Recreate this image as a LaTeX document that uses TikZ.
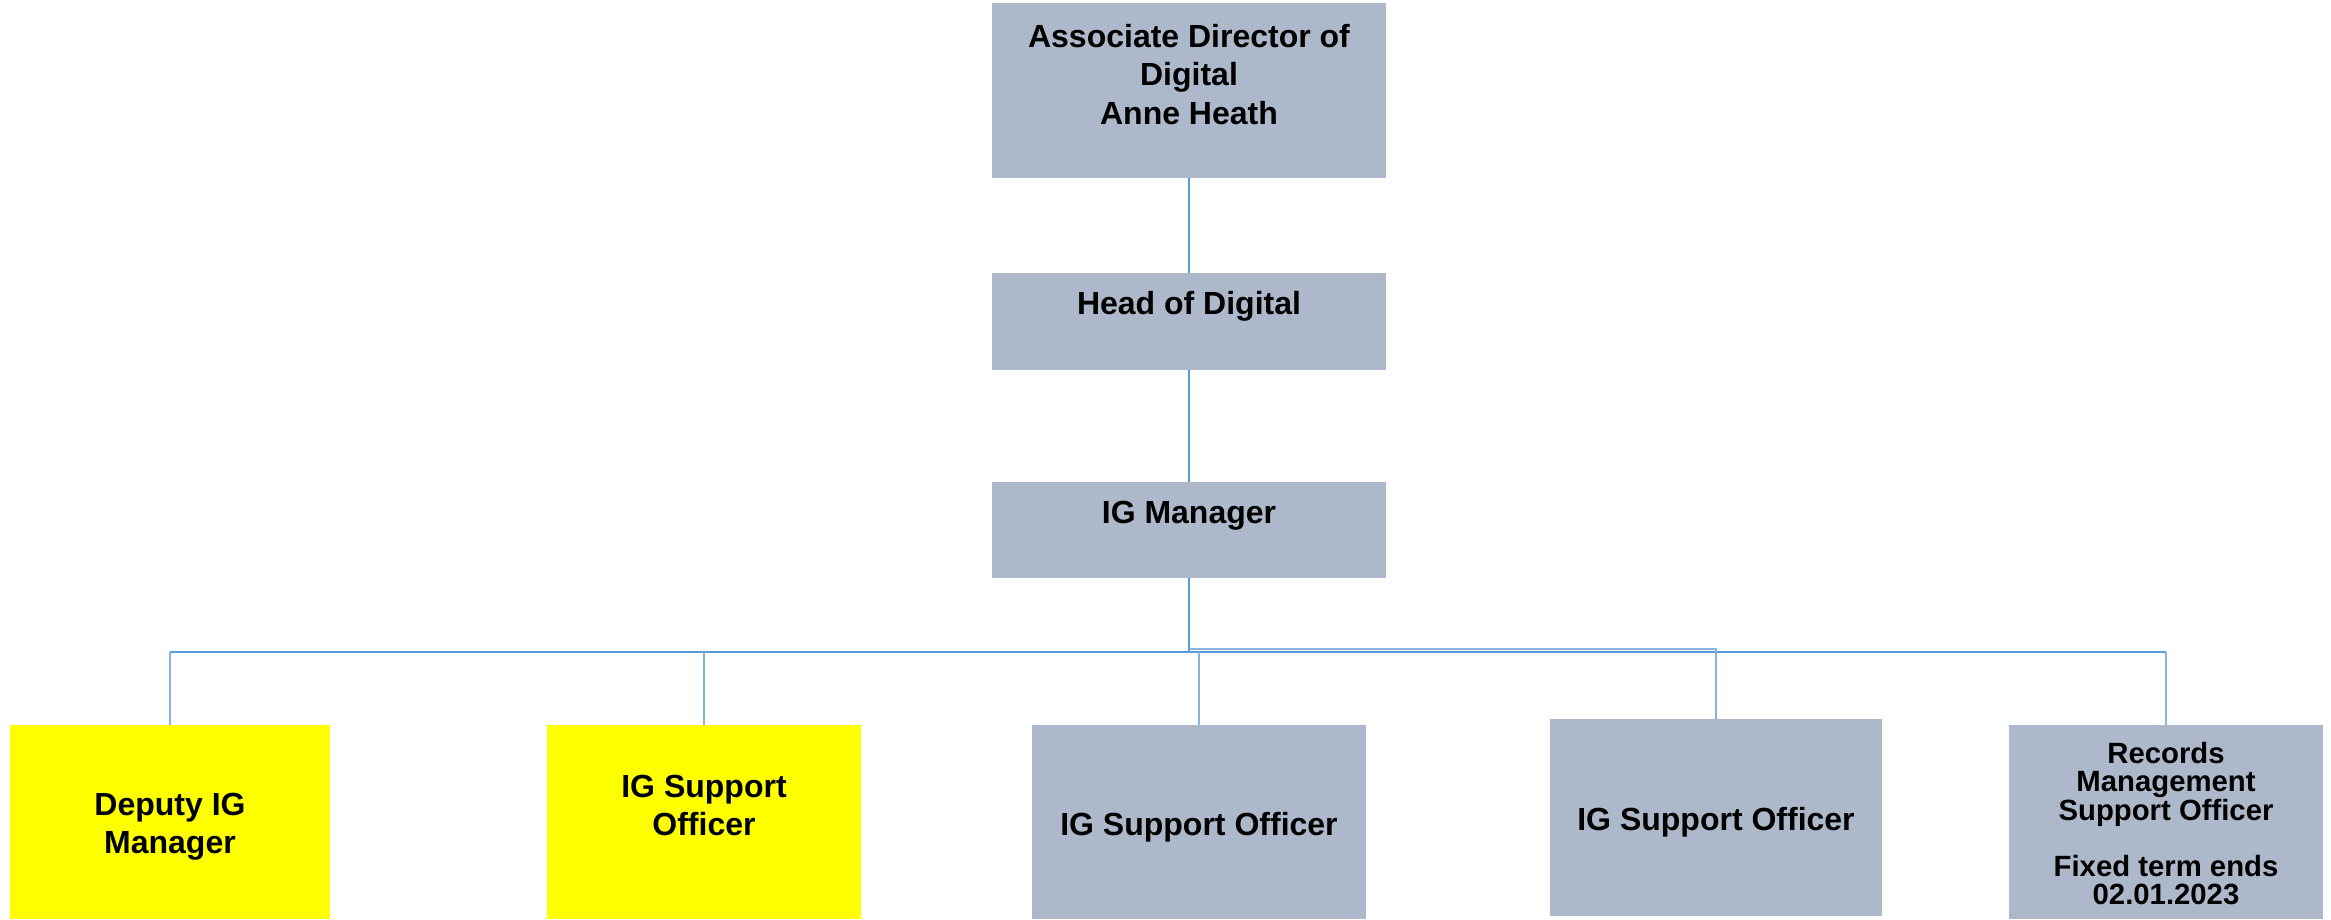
\documentclass[tikz,border=0pt]{standalone}
\usepackage{fontspec}
\setmainfont{Liberation Sans}
\definecolor{boxgray}{HTML}{ADB9CA}
\definecolor{boxyellow}{HTML}{FFFF00}
\definecolor{linkblue}{HTML}{5B9BD5}
\definecolor{droplight}{HTML}{86B3E2}
\begin{document}
\begin{tikzpicture}[x=1pt,y=-1pt,
  box/.style={rectangle, inner sep=0pt, draw=none},
  graybox/.style={box, fill=boxgray},
  yellowbox/.style={box, fill=boxyellow},
  lbl/.style={anchor=north, inner sep=0pt, align=center, font=\fontsize{32}{38.4}\selectfont\bfseries},
  smalllbl/.style={lbl, font=\fontsize{29.3}{28.3}\selectfont\bfseries},
  conn/.style={draw=linkblue, line width=1.8pt},
  drop/.style={draw=droplight, line width=1.4pt}]
\useasboundingbox (0,0) rectangle (2331,919);

% boxes
\node[graybox, minimum width=394pt, minimum height=175pt] (top) at (1189,90.5) {};
\node[graybox, minimum width=394pt, minimum height=97pt] (hod) at (1189,321.5) {};
\node[graybox, minimum width=394pt, minimum height=96pt] (igm) at (1189,530) {};
\node[yellowbox, minimum width=320pt, minimum height=194pt] (dep) at (170,822) {};
\node[yellowbox, minimum width=314pt, minimum height=194pt] (ys) at (704,822) {};
\node[graybox, minimum width=334pt, minimum height=194pt] (g1) at (1199,822) {};
\node[graybox, minimum width=332pt, minimum height=197pt] (g2) at (1716,817.5) {};
\node[graybox, minimum width=314pt, minimum height=194pt] (rec) at (2166,822) {};

% texts
\node[lbl] (t-top) at (1189,24) {Associate Director of\\Digital\\Anne Heath};
\node[lbl] (t-hod) at (1189,291) {Head of Digital};
\node[lbl] (t-igm) at (1189,501) {IG Manager};
\node[lbl] (t-dep) at (170,793) {Deputy IG\\Manager};
\node[lbl] (t-ys) at (704,775) {IG Support\\Officer};
\node[lbl] (t-g1) at (1199,812) {IG Support Officer};
\node[lbl] (t-g2) at (1716,807) {IG Support Officer};
\node[smalllbl] (t-rec) at (2166,742) {Records\\Management\\Support Officer\\[28.3pt]Fixed term ends\\02.01.2023};

% connectors
\coordinate (bus) at (1189,652);
\coordinate (bus2) at (1189,649);
\coordinate (busL) at (dep.north |- bus);
\coordinate (busR) at (rec.north |- bus);
\draw[conn] (top.south) -- (hod.north);
\draw[conn] (hod.south) -- (igm.north);
\draw[conn] (igm.south) -- (bus);
\draw[conn] (busL) -- (busR);
\draw[drop] (dep.north) -- (busL);
\draw[drop] (ys.north) -- (ys.north |- bus);
\draw[drop] (g1.north) -- (g1.north |- bus);
\draw[drop] (rec.north) -- (busR);
\draw[drop] (bus2) -| (g2.north);
\end{tikzpicture}
\end{document}
